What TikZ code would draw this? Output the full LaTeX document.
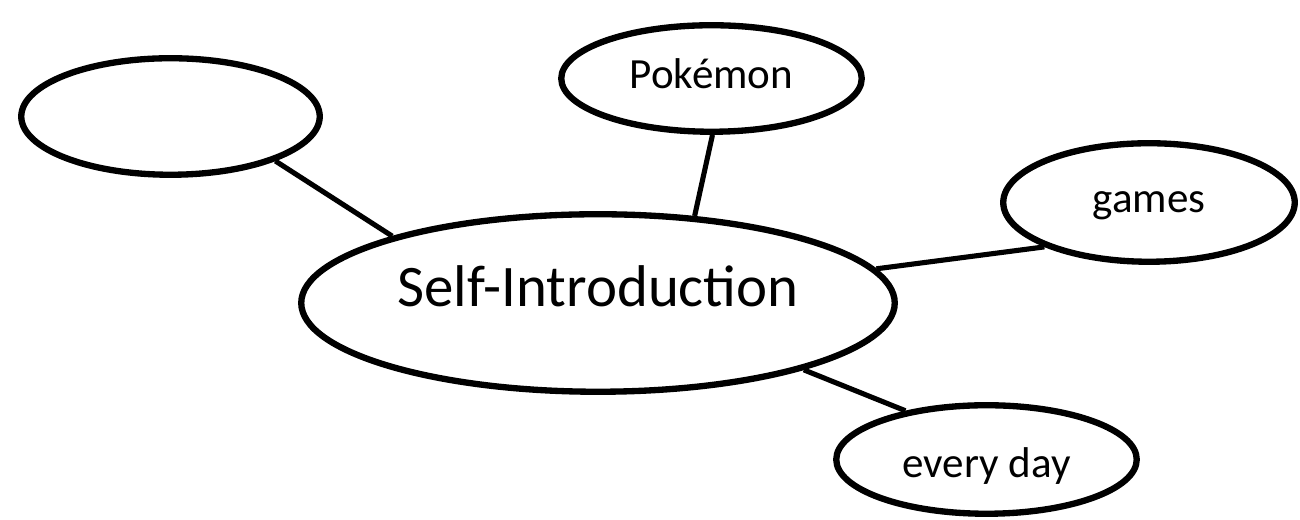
\documentclass[tikz,border=0pt]{standalone}
\usepackage{fontspec}
\setmainfont{Carlito}
\usetikzlibrary{shapes.geometric}

\begin{document}
\begin{tikzpicture}[nodes = {align = center}]

  \tikzstyle{topic}=[draw, ellipse, line width=3.6pt, inner sep=0pt, text height=0.5cm, text depth=0.1cm, font=\fontsize{24.5}{28}\selectfont]
  \tikzstyle{link}=[line width=2.9pt]

  \useasboundingbox (0,0) rectangle (26,10.4);

  % Centre
  \node[topic, minimum width=11.87cm, minimum height=3.55cm, text height=0.7cm, text depth=0.55cm, font=\fontsize{33.5}{38}\selectfont] (self) at (11.96,4.34) {Self-Introduction};

  % Topics round it
  \node[topic, minimum width=5.97cm, minimum height=2.33cm] (blank) at (3.41,8.07) {};
  \node[topic, minimum width=6.01cm, minimum height=2.13cm] (poke) at (14.23,8.83) {Pokémon};
  \node[topic, minimum width=5.83cm, minimum height=2.37cm] (games) at (22.98,6.35) {games};
  \node[topic, minimum width=6.01cm, minimum height=2.17cm, text height=0.8cm, text depth=0.06cm] (day) at (19.73,1.21) {every day};

  % Lines to the centre
  \draw[link] (blank.-23) -- (self.162);
  \draw[link] (poke.-89) -- (self.42);
  \draw[link] (games.-157) -- (self.7);
  \draw[link] (day.149) -- (self.-18);

\end{tikzpicture}
\end{document}
